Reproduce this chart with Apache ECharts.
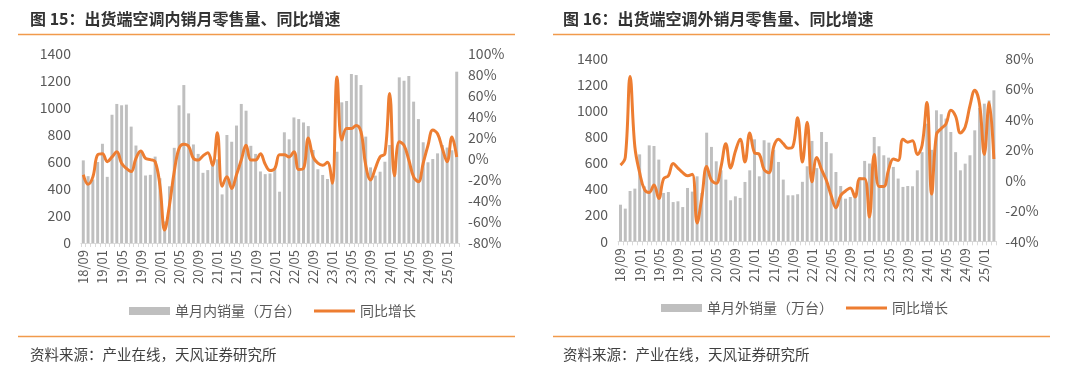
<!DOCTYPE html>
<html><head><meta charset="utf-8">
<script src="https://cdn.jsdelivr.net/npm/echarts@6/dist/echarts.min.js"></script>
<style>html,body{margin:0;padding:0;background:#fff}#c{width:1070px;height:380px}</style>
</head><body><div id="c"></div>
<script>
const categories = ['18/09','18/10','18/11','18/12',
'19/01','19/02','19/03','19/04','19/05','19/06','19/07','19/08','19/09','19/10','19/11','19/12',
'20/01','20/02','20/03','20/04','20/05','20/06','20/07','20/08','20/09','20/10','20/11','20/12',
'21/01','21/02','21/03','21/04','21/05','21/06','21/07','21/08','21/09','21/10','21/11','21/12',
'22/01','22/02','22/03','22/04','22/05','22/06','22/07','22/08','22/09','22/10','22/11','22/12',
'23/01','23/02','23/03','23/04','23/05','23/06','23/07','23/08','23/09','23/10','23/11','23/12',
'24/01','24/02','24/03','24/04','24/05','24/06','24/07','24/08','24/09','24/10','24/11','24/12',
'25/01','25/02','25/03'];

// 图15 内销
const domesticSales = [612,495,470,600,
735,490,950,1030,1020,1025,862,722,680,500,505,640,
480,160,420,705,1020,1170,960,730,660,520,540,600,
620,360,800,750,870,1030,980,720,660,530,510,515,
550,380,820,768,930,918,893,866,689,546,504,474,
445,676,1042,1052,1252,1244,1170,788,560,499,528,602,
726,570,1227,1202,1237,1047,918,746,598,622,664,726,
707,687,1269];
const domesticYoY = [-15,-24,-17,4,
5,-2.5,2,7,-4,-9,-12,0.6,7.6,0.6,-0.6,-2.5,
-25,-67.6,-44,-12,10,14,12,0.6,-1,3,6,-6,
25,-26,-17,-28,-15,-1,13,-1,-1,5,-5,-11,
-9,4,4,2,7,-10,-9,20,2,-4,-6,-3,
-23,78,18,29,29,32,26,-6,-20,-9,2,5,
62.5,-16,16.5,13,-1,-17,-21.6,-4,13,27.6,24,10,
-2.6,21,2];

// 图16 外销
const exportSales = [280,250,385,403,
665,420,734,729,625,370,377,300,306,262,408,380,
497,370,831,722,612,543,472,314,344,332,454,543,
780,497,773,755,700,607,472,352,352,360,455,574,
768,560,836,760,673,530,423,326,339,339,492,615,
595,798,727,658,640,569,480,416,423,421,543,682,
900,700,1002,972,939,836,682,543,594,658,849,1020,
1053,1078,1155];
const exportYoY = [10,15,68,22,
5,-6,-8,-3,-12,1,3,11,8,5,3,4,
-28,-11,9,0,-2,9,24,8,19,27,12,31,
18,17,7,5,22,27,24,21,22,41,12,38,
-1,15,7,0,-10,-18,-10,-7,-5,-11,1,1,
-24,17,-4,-4,7,14,13,27,25,26,17,23,
51,-9,30,34,37,46,42,31,35,49,59,50,
17,51,14];

const leftAxisTicks = {min:0, max:1400, interval:200};
const leftPctTicks = {min:-80, max:100, interval:20};
const rightAxisTicks = {min:0, max:1400, interval:200};
const rightPctTicks = {min:-40, max:80, interval:20};

const FONT = '"Noto Sans CJK SC","Noto Sans",sans-serif';
const GRAY_TXT = '#595959';
const BAR = '#BFBFBF';
const ORANGE = '#ED7D31';
const RULE = '#F19A4B';
const LINE_ICON = 'path://M0,0 L40,0 L40,3 L0,3 Z';

function xAxis(gi){
  return {type:'category', gridIndex:gi, data:categories,
    axisLine:{lineStyle:{color:'#D9D9D9', width:1}},
    axisTick:{show:true, interval:0, length:4, lineStyle:{color:'#D9D9D9'}},
    axisLabel:{rotate:90, interval:3, fontSize:13, color:GRAY_TXT, margin:7, fontFamily:FONT}};
}
function yAxis(gi, t, pos, pct){
  return {type:'value', gridIndex:gi, position:pos, min:t.min, max:t.max, interval:t.interval,
    splitLine:{show:false}, axisLine:{show:false}, axisTick:{show:false},
    axisLabel:{fontSize:14, color:GRAY_TXT, margin:pct?9:10, fontFamily:FONT,
      formatter: v => pct ? (String(v) + '%') : String(v)}};
}

const chart = echarts.init(document.getElementById('c'), null, {renderer:'canvas'});
chart.setOption({
  animation:false,
  textStyle:{fontFamily:FONT},
  grid:[
    {left:80.9, width:378.2, top:54, height:189},
    {left:618.1, width:378.2, top:58.3, height:183}
  ],
  xAxis:[xAxis(0), xAxis(1)],
  yAxis:[
    yAxis(0, leftAxisTicks, 'left', false),
    yAxis(0, leftPctTicks, 'right', true),
    yAxis(1, rightAxisTicks, 'left', false),
    yAxis(1, rightPctTicks, 'right', true)
  ],
  legend:[
    {left:129, top:304, padding:0, itemWidth:41, itemHeight:8, itemGap:13,
     textStyle:{fontSize:14, color:GRAY_TXT, fontFamily:FONT},
     data:[{name:'单月内销量（万台）', icon:'rect'}, {name:'同比增长', icon:LINE_ICON}]},
    {left:661, top:301, padding:0, itemWidth:41, itemHeight:8, itemGap:13,
     textStyle:{fontSize:14, color:GRAY_TXT, fontFamily:FONT},
     data:[{name:'单月外销量（万台）', icon:'rect'}, {name:'同比增长', icon:LINE_ICON}]}
  ],
  series:[
    {name:'单月内销量（万台）', type:'bar', xAxisIndex:0, yAxisIndex:0, data:domesticSales,
     itemStyle:{color:BAR}, barCategoryGap:'38%'},
    {name:'同比增长', type:'line', xAxisIndex:0, yAxisIndex:1, data:domesticYoY,
     symbol:'none', smooth:0.4, lineStyle:{color:ORANGE, width:3}, itemStyle:{color:ORANGE}, z:3},
    {name:'单月外销量（万台）', type:'bar', xAxisIndex:1, yAxisIndex:2, data:exportSales,
     itemStyle:{color:BAR}, barCategoryGap:'38%'},
    {name:'同比增长', type:'line', xAxisIndex:1, yAxisIndex:3, data:exportYoY,
     symbol:'none', smooth:0.4, lineStyle:{color:ORANGE, width:3}, itemStyle:{color:ORANGE}, z:3}
  ],
  graphic:[
    {type:'text', style:{x:30, y:18.5, text:'图 15：出货端空调内销月零售量、同比增速', fontSize:16, fontWeight:'bold', fontFamily:FONT, fill:'#333', verticalAlign:'middle'}},
    {type:'text', style:{x:563, y:18.5, text:'图 16：出货端空调外销月零售量、同比增速', fontSize:16, fontWeight:'bold', fontFamily:FONT, fill:'#333', verticalAlign:'middle'}},
    {type:'line', shape:{x1:18, y1:34.5, x2:515, y2:34.5}, style:{stroke:RULE, lineWidth:1.5}},
    {type:'line', shape:{x1:553, y1:34.5, x2:1050, y2:34.5}, style:{stroke:RULE, lineWidth:1.5}},
    {type:'line', shape:{x1:18, y1:336.5, x2:515, y2:336.5}, style:{stroke:RULE, lineWidth:1.5}},
    {type:'line', shape:{x1:553, y1:336.5, x2:1050, y2:336.5}, style:{stroke:RULE, lineWidth:1.5}},
    {type:'text', style:{x:30, y:354, text:'资料来源：产业在线，天风证券研究所', fontSize:14.5, fontFamily:FONT, fill:'#404040', verticalAlign:'middle'}},
    {type:'text', style:{x:563, y:354, text:'资料来源：产业在线，天风证券研究所', fontSize:14.5, fontFamily:FONT, fill:'#404040', verticalAlign:'middle'}}
  ]
});
</script>
</body></html>
